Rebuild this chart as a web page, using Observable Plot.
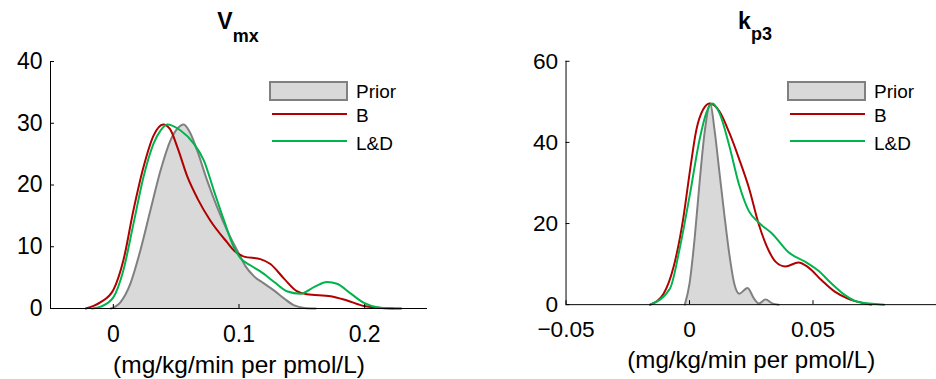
<!DOCTYPE html>
<html>
<head>
<meta charset="utf-8">
<script src="https://cdn.jsdelivr.net/npm/d3@7"></script>
<script src="https://cdn.jsdelivr.net/npm/@observablehq/plot@0.6"></script>
<style>
  html, body { margin: 0; padding: 0; background: #fff; }
  #wrap { position: relative; width: 936px; height: 379px; overflow: hidden; background: #fff; font-family: "Liberation Sans", Arial, Helvetica, sans-serif; }
  .panel { position: absolute; top: 48px; }
  .panel svg { overflow: visible; }
  g[aria-label="x-axis label"] text { font-size: 24.5px; }
  #overlay { position: absolute; left: 0; top: 0; pointer-events: none; }
</style>
</head>
<body>
<div id="wrap">
  <div class="panel" id="left" style="left:0px"></div>
  <div class="panel" id="right" style="left:468px"></div>
  <svg id="overlay" width="936" height="379"></svg>
</div>
<script>
// ---------- Data ----------
// Panel 1: V_mx
const vmxPriorX = [-0.002, 0.0056, 0.0135, 0.0215, 0.0295, 0.0375, 0.0454, 0.0508, 0.056, 0.061, 0.0667, 0.0747, 0.0826, 0.0906, 0.0996, 0.105, 0.112, 0.1195, 0.128, 0.136, 0.144, 0.152, 0.161];
const vmxPriorY = [0, 1.0, 4.0, 9.4, 15.9, 22.3, 27.2, 29.1, 29.8, 28.5, 25.6, 20.7, 16.4, 12.6, 9.0, 6.9, 5.2, 4.1, 2.9, 1.6, 0.5, 0.1, 0];

const vmxBX = [-0.022, -0.0104, 0, 0.008, 0.016, 0.024, 0.032, 0.0396, 0.045, 0.051, 0.059, 0.067, 0.077, 0.0906, 0.096, 0.104, 0.117, 0.125, 0.136, 0.146, 0.154, 0.173, 0.186, 0.1995, 0.213, 0.229];
const vmxBY = [0, 1.0, 3.0, 7.8, 15.9, 22.9, 28.0, 29.8, 29.1, 26.1, 21.3, 17.8, 14.3, 10.7, 9.4, 8.4, 8.0, 7.2, 4.8, 2.8, 2.3, 2.0, 1.3, 0.4, 0.1, 0];

const vmxLDX = [-0.017, -0.010, 0, 0.008, 0.016, 0.024, 0.032, 0.0375, 0.0428, 0.053, 0.064, 0.072, 0.080, 0.088, 0.096, 0.101, 0.109, 0.117, 0.128, 0.138, 0.149, 0.160, 0.170, 0.178, 0.189, 0.1995, 0.210, 0.223];
const vmxLDY = [0, 0.3, 1.8, 6.2, 13.7, 21.3, 26.7, 28.8, 29.8, 28.9, 26.7, 24.0, 19.1, 14.3, 9.9, 8.2, 7.0, 6.0, 4.3, 2.8, 2.4, 3.5, 4.3, 4.0, 2.4, 0.9, 0.2, 0];

// Panel 2: k_p3
const kp3PriorX = [-0.0019, 0, 0.0021, 0.0041, 0.0061, 0.0084, 0.0101, 0.0121, 0.0141, 0.0161, 0.0181, 0.0201, 0.0235, 0.0261, 0.0281, 0.0308, 0.0335, 0.0361];
const kp3PriorY = [0, 5.2, 16.5, 30.3, 42.4, 49.6, 43.2, 32.7, 22.2, 12.5, 5.2, 2.7, 4.1, 1.5, 0.3, 1.3, 0.3, 0];

const kp3BX = [-0.0159, -0.0105, -0.0065, -0.0025, 0.0001, 0.0028, 0.0055, 0.0081, 0.0121, 0.0161, 0.0201, 0.0241, 0.0281, 0.0321, 0.0348, 0.0388, 0.0441, 0.0481, 0.0535, 0.0588, 0.0641, 0.0695, 0.0735];
const kp3BY = [0, 2.7, 9.2, 21.4, 32.7, 43.2, 48.1, 49.6, 47.7, 42.4, 35.9, 28.7, 19.7, 13.3, 10.6, 9.4, 10.4, 9.2, 6.0, 3.2, 1.5, 0.5, 0];

const kp3LDX = [-0.016, -0.0079, -0.0039, 0.0001, 0.0041, 0.0068, 0.0092, 0.0121, 0.0161, 0.0201, 0.0241, 0.0281, 0.0335, 0.0401, 0.0468, 0.0521, 0.0575, 0.0628, 0.0681, 0.0788];
const kp3LDY = [0, 4.0, 14.1, 27.0, 40.8, 47.3, 49.6, 47.3, 39.2, 29.5, 23.0, 20.2, 17.5, 12.9, 10.6, 8.4, 5.2, 2.4, 0.7, 0];

const vmxXTicks = [0, 0.1, 0.2];
const vmxYTicks = [0, 10, 20, 30, 40];
const kp3XTicks = [-0.05, 0, 0.05];
const kp3YTicks = [0, 20, 40, 60];

const seriesNames = ["Prior", "B", "L&D"];
const xLabel = "(mg/kg/min per pmol/L)";

const priorFill = "#d9d9d9", priorStroke = "#808080", bColor = "#b00000", ldColor = "#00b34d";

const zip = (xs, ys) => xs.map((x, i) => ({x, y: ys[i]}));
const fmt = d3.format("");

function panel({prior, b, ld, xDomain, yDomain, xTicks, yTicks, width, marginLeft, marginRight}) {
  return Plot.plot({
    width, height: 331,
    marginTop: 13, marginBottom: 71, marginLeft, marginRight,
    x: {domain: xDomain},
    y: {domain: yDomain},
    style: {fontFamily: '"Liberation Sans", Arial, Helvetica, sans-serif', fontSize: "23px", color: "#000", background: "transparent", overflow: "visible"},
    marks: [
      Plot.areaY(prior, {x: "x", y: "y", fill: priorFill, curve: "monotone-x"}),
      Plot.lineY(prior, {x: "x", y: "y", stroke: priorStroke, strokeWidth: 2, curve: "monotone-x"}),
      Plot.lineY(b, {x: "x", y: "y", stroke: bColor, strokeWidth: 2, curve: "monotone-x"}),
      Plot.lineY(ld, {x: "x", y: "y", stroke: ldColor, strokeWidth: 2, curve: "monotone-x"}),
      Plot.ruleY([yDomain[0]], {stroke: "#000", strokeWidth: 1}),
      Plot.ruleX([xDomain[0]], {stroke: "#000", strokeWidth: 1}),
      Plot.axisX({ticks: xTicks, tickFormat: fmt, tickSize: -4, tickPadding: 21, stroke: "#000",
        label: xLabel, labelAnchor: "center", labelArrow: "none", labelOffset: 64}),
      Plot.axisY({ticks: yTicks, tickFormat: fmt, tickSize: -4, tickPadding: 12, stroke: "#000", label: null})
    ]
  });
}

document.getElementById("left").append(panel({
  prior: zip(vmxPriorX, vmxPriorY), b: zip(vmxBX, vmxBY), ld: zip(vmxLDX, vmxLDY),
  xDomain: [-0.05, 0.25], yDomain: [0, 40], xTicks: vmxXTicks, yTicks: vmxYTicks,
  width: 468, marginLeft: 50, marginRight: 41
}));
document.getElementById("right").append(panel({
  prior: zip(kp3PriorX, kp3PriorY), b: zip(kp3BX, kp3BY), ld: zip(kp3LDX, kp3LDY),
  xDomain: [-0.05, 0.1], yDomain: [0, 60], xTicks: kp3XTicks, yTicks: kp3YTicks,
  width: 475, marginLeft: 99, marginRight: 0
}));

// ---------- Titles and legends ----------
const ov = d3.select("#overlay").style("font-family", '"Liberation Sans", Arial, Helvetica, sans-serif');
function title(cx, main, sub, subDy) {
  const t = ov.append("text").attr("x", cx).attr("y", 29).attr("text-anchor", "middle").attr("font-weight", "bold");
  t.append("tspan").attr("font-size", 23).text(main);
  t.append("tspan").attr("font-size", 18).attr("dy", subDy).text(sub);
}
title(238, "V", "mx", 13);
title(755, "k", "p3", 11);

function legend(x0) {
  const g = ov.append("g");
  g.append("rect").attr("x", x0).attr("y", 82).attr("width", 77).attr("height", 18)
    .attr("fill", priorFill).attr("stroke", priorStroke).attr("stroke-width", 2);
  g.append("line").attr("x1", x0 + 2).attr("x2", x0 + 77).attr("y1", 114).attr("y2", 114).attr("stroke", bColor).attr("stroke-width", 2);
  g.append("line").attr("x1", x0 + 2).attr("x2", x0 + 77).attr("y1", 141).attr("y2", 141).attr("stroke", ldColor).attr("stroke-width", 2);
  const ys = [98, 122, 150];
  seriesNames.forEach((n, i) => g.append("text").attr("x", x0 + 86).attr("y", ys[i]).attr("font-size", 19).text(n));
}
legend(270);
legend(788);
</script>
</body>
</html>
